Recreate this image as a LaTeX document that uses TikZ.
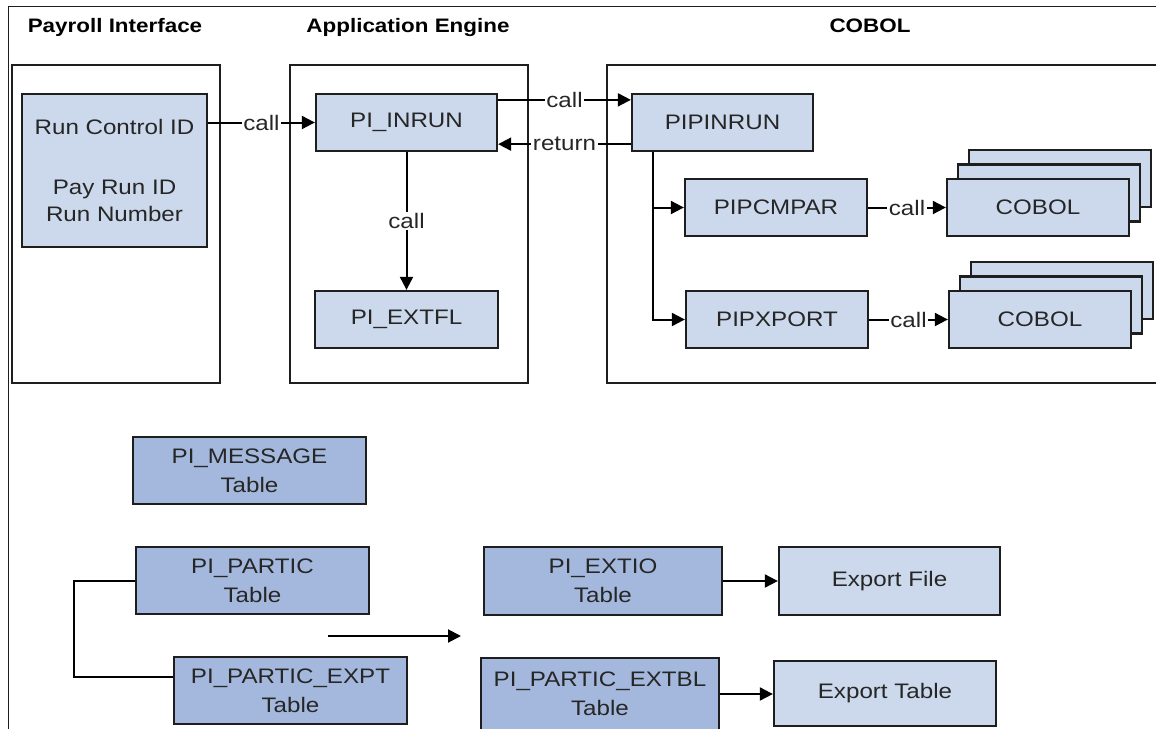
\documentclass[tikz,border=0pt]{standalone}
\usepackage{fontspec}
\setmainfont{Liberation Sans}[FakeStretch=1.15]
\usetikzlibrary{arrows.meta}
\definecolor{boxline}{HTML}{1E1E1E}
\definecolor{procblue}{HTML}{CCD9EC}
\definecolor{tableblue}{HTML}{A3B8DC}
\definecolor{txtgray}{HTML}{262626}

\begin{document}
\begin{tikzpicture}[x=1pt, y=-1pt,
  box/.style={draw=boxline, line width=2.3pt, inner sep=0pt, text=txtgray, align=center},
  proc/.style={box, fill=procblue, minimum height=57pt, font=\fontsize{21}{27}\selectfont},
  tbl/.style={box, fill=tableblue, minimum height=67pt, font=\fontsize{21}{29}\selectfont},
  group/.style={draw=boxline, line width=2.3pt},
  head/.style={font=\fontsize{19.5}{24}\selectfont\bfseries, text=black, anchor=base},
  arr/.style={draw=black, line width=2pt, -{Triangle[length=13pt,width=13pt]}},
  link/.style={draw=black, line width=2pt},
  lbl/.style={fill=white, inner xsep=1.5pt, inner ysep=1pt, text=txtgray, font=\fontsize{21}{24}\selectfont}
]
\useasboundingbox (0,0) rectangle (1156,728);
\fill[white] (0,0) rectangle (1156,728);
% outer frame, cut by the picture edge
\draw[draw=boxline, line width=1.3pt] (8.5,760) -- (8.5,6.5) -- (1200,6.5);

% headings
\node[head] (hpay) at (115,32) {Payroll Interface};
\node[head] (hae) at (408,32) {Application Engine};
\node[head] (hcob) at (870,32) {COBOL};

% group boxes
\draw[group] (12,65) rectangle (220,383);
\draw[group] (290,65) rectangle (528,383);
\draw[group] (607,65) rectangle (1200,383);

% payroll interface
\node[proc, minimum width=185pt, minimum height=153pt] (runctl) at (114.5,170.5) {Run Control ID\\[33pt]Pay Run ID\\Run Number};

% application engine
\node[proc, minimum width=181pt] (inrun) at (406.5,122.5) {PI\_INRUN};
\node[proc, minimum width=183pt] (extfl) at (406.5,319.5) {PI\_EXTFL};

% cobol programs
\node[proc, minimum width=181pt] (pipinrun) at (722.5,122.5) {PIPINRUN};
\node[proc, minimum width=182pt] (cmpar) at (776,207.5) {PIPCMPAR};
\node[proc, minimum width=182pt] (xport) at (777,319.5) {PIPXPORT};
\foreach \k/\x/\y in {a/1038/207.5, b/1040/319.5} {
  \node[proc, minimum width=182pt] (cobol\k3) at ({\x+22},{\y-29}) {};
  \node[proc, minimum width=182pt] (cobol\k2) at ({\x+11},{\y-14.5}) {};
  \node[proc, minimum width=182pt] (cobol\k) at (\x,\y) {COBOL};
}

% tables
\node[tbl, minimum width=233pt] (msg) at (249.5,470.5) {PI\_MESSAGE\\Table};
\node[tbl, minimum width=233pt] (partic) at (252.5,580.5) {PI\_PARTIC\\Table};
\node[tbl, minimum width=233pt] (expt) at (290.5,690.5) {PI\_PARTIC\_EXPT\\Table};
\node[tbl, minimum width=238pt, minimum height=68pt] (extio) at (603,581) {PI\_EXTIO\\Table};
\node[tbl, minimum width=238pt, minimum height=72pt] (extbl) at (600,694) {PI\_PARTIC\_EXTBL\\Table};
\node[proc, minimum width=221pt, minimum height=68pt] (expfile) at (889.5,581) {Export File};
\node[proc, minimum width=222pt, minimum height=65pt] (exptbl) at (885,693.5) {Export Table};

% calls
\draw[arr] (runctl.east |- inrun.west) -- node[lbl]{call} (inrun.west);
\draw[arr] ([yshift=-7pt]inrun.north east) -- node[lbl]{call} ([yshift=-7pt]pipinrun.north west);
\draw[arr] ([yshift=8pt]pipinrun.south west) -- node[lbl]{return} ([yshift=8pt]inrun.south east);
\draw[arr] (inrun.south) -- node[lbl]{call} (extfl.north);
\draw[arr] ([xshift=22pt]pipinrun.south west) |- (cmpar.west);
\draw[arr] ([xshift=22pt]pipinrun.south west) |- (xport.west);
\draw[arr] (cmpar.east) -- node[lbl]{call} (cobola.west);
\draw[arr] (xport.east) -- node[lbl]{call} (cobolb.west);

% table flow
\draw[link] (partic.west) -- ++(-61,0) |- ([yshift=-21pt]expt.north west);
\coordinate (flowa) at (328,636);
\coordinate (flowb) at (461,636);
\draw[arr] (flowa) -- (flowb);
\draw[arr] (extio.east) -- (expfile.west);
\draw[arr] (extbl.east) -- (extbl.east -| exptbl.west);
\end{tikzpicture}
\end{document}
